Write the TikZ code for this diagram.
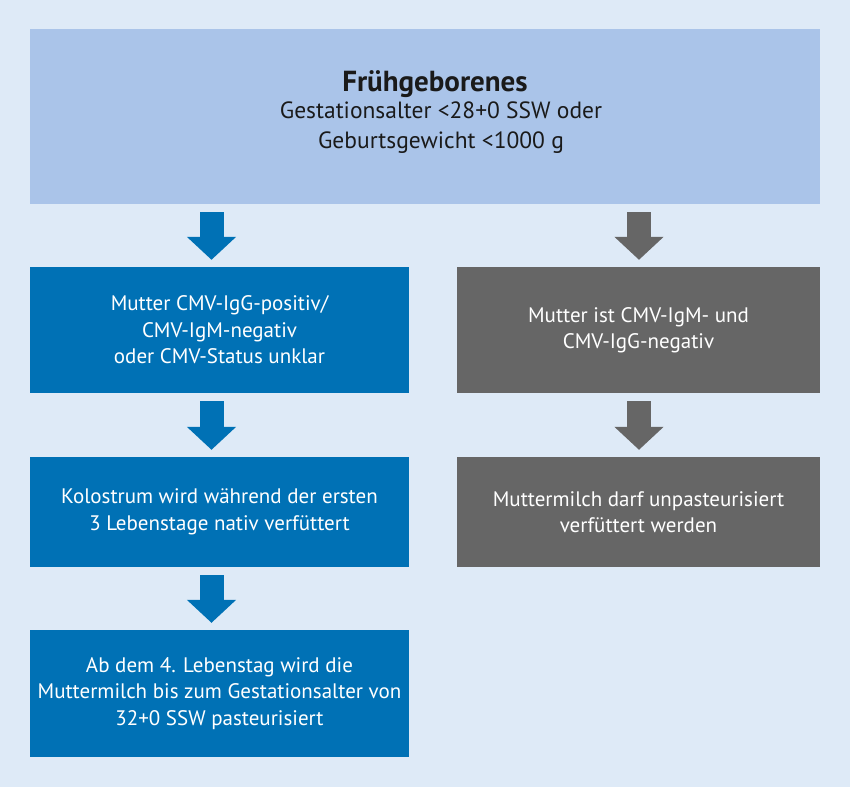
\documentclass[tikz,border=0pt]{standalone}
\usepackage{fontspec}
\setmainfont{PT Sans}
\usetikzlibrary{arrows.meta,calc}
\definecolor{bgc}{HTML}{DEEAF7}
\definecolor{topc}{HTML}{AAC4E9}
\definecolor{bluec}{HTML}{0071B5}
\definecolor{greyc}{HTML}{666666}
\definecolor{darktext}{HTML}{1A1A1A}
\tikzset{
  box/.style={rectangle, inner sep=0pt, draw=none, align=center, text=white,
    font=\fontsize{21}{26.5}\selectfont},
  bluebox/.style={box, fill=bluec, minimum width=379pt},
  greybox/.style={box, fill=greyc, minimum width=363pt},
  topbox/.style={box, fill=topc, text=darktext, minimum width=790pt, minimum height=175pt,
    font=\fontsize{23.5}{30}\selectfont, text depth=13pt},
  fatarrow/.style={line width=24pt, -{Triangle[width=48pt,length=23pt]}},
  barrow/.style={fatarrow, draw=bluec},
  garrow/.style={fatarrow, draw=greyc},
}
\begin{document}
\begin{tikzpicture}[x=1pt,y=-1pt]
\useasboundingbox (0,0) rectangle (850,787);
\fill[bgc] (0,0) rectangle (850,787);
\node[topbox] (top) at (425,116.5) {\hspace*{20pt}{\fontsize{29}{30}\selectfont\bfseries Frühgeborenes}\\[-3pt]\hspace*{32pt}Gestationsalter <28+0 SSW oder\\\hspace*{32pt}Geburtsgewicht <1000 g};
\node[bluebox, minimum height=126pt] (b1) at (219.5,330) {Mutter CMV-IgG-positiv/\\CMV-IgM-negativ\\oder CMV-Status unklar};
\node[bluebox, minimum height=110pt] (b2) at (219.5,512) {Kolostrum wird während der ersten\\3 Lebenstage nativ verfüttert};
\node[bluebox, minimum height=127pt] (b3) at (219.5,693.5) {Ab dem 4. Lebenstag wird die\\Muttermilch bis zum Gestationsalter von\\32+0 SSW pasteurisiert};
\node[greybox, minimum height=126pt] (g1) at (638.5,330) {Mutter ist CMV-IgM- und\\CMV-IgG-negativ};
\node[greybox, minimum height=110pt] (g2) at (638.5,512) {Muttermilch darf unpasteurisiert\\verfüttert werden};
% arrows
\coordinate (a1s) at ($(top.south -| b1.north)+(-8,8)$);
\coordinate (a1e) at ($(b1.north)+(-8,-7)$);
\draw[barrow] (a1s) -- (a1e);
\coordinate (a2s) at ($(b1.south)+(-8,8)$);
\coordinate (a2e) at ($(b2.north)+(-8,-7)$);
\draw[barrow] (a2s) -- (a2e);
\coordinate (a3s) at ($(b2.south)+(-8,8)$);
\coordinate (a3e) at ($(b3.north)+(-8,-7)$);
\draw[barrow] (a3s) -- (a3e);
\coordinate (a4s) at ($(top.south -| g1.north)+(0.5,8)$);
\coordinate (a4e) at ($(g1.north)+(0.5,-7)$);
\draw[garrow] (a4s) -- (a4e);
\coordinate (a5s) at ($(g1.south)+(0.5,8)$);
\coordinate (a5e) at ($(g2.north)+(0.5,-7)$);
\draw[garrow] (a5s) -- (a5e);
\end{tikzpicture}
\end{document}
